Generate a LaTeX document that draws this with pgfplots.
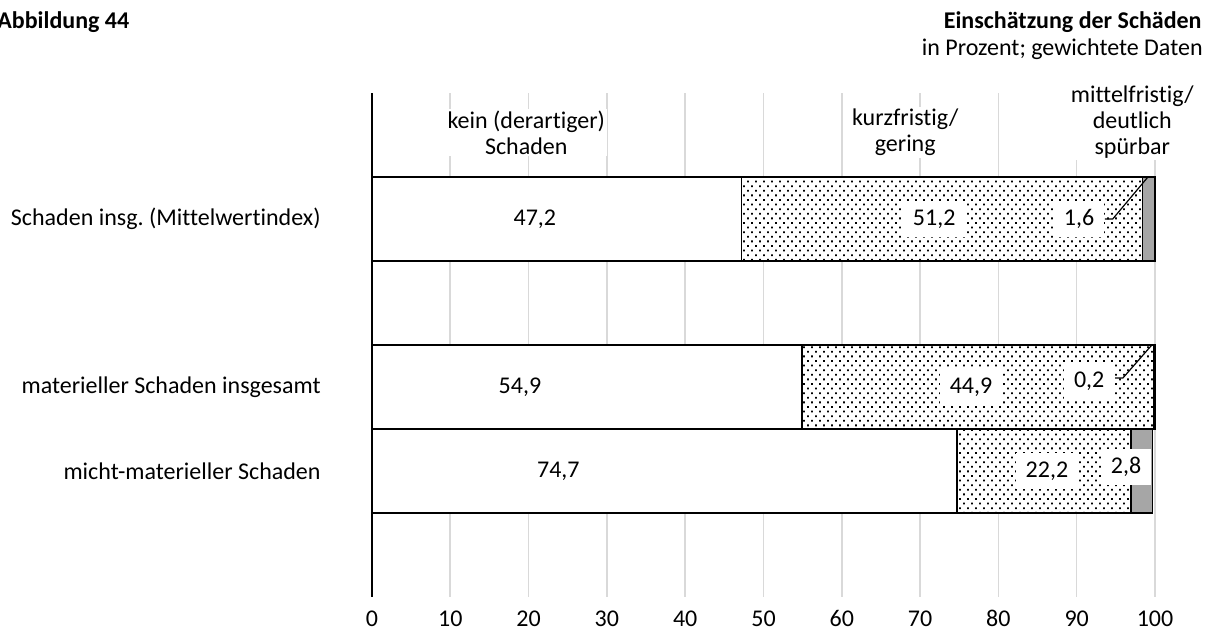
\documentclass[border=0pt]{standalone}
\usepackage{fontspec}
\setmainfont{Carlito}[Ligatures=NoCommon]
\usepackage{pgfplots}
\pgfplotsset{compat=1.18}
\usetikzlibrary{patterns}
\definecolor{midgray}{HTML}{A6A6A6}
\definecolor{gridgray}{HTML}{D9D9D9}
\pgfdeclarepatternformonly{mydots}{\pgfqpoint{-0.5pt}{-0.5pt}}{\pgfqpoint{4.5pt}{5.5pt}}{\pgfqpoint{4pt}{4.6pt}}{%
 \pgfpathrectangle{\pgfqpoint{-0.45pt}{-0.45pt}}{\pgfqpoint{0.9pt}{0.9pt}}%
 \pgfpathrectangle{\pgfqpoint{1.55pt}{1.85pt}}{\pgfqpoint{0.9pt}{0.9pt}}%
 \pgfusepath{fill}}
\begin{document}
\frenchspacing
\begin{tikzpicture}[font=\fontsize{12}{13}\selectfont]
\useasboundingbox (-186pt,-20pt) rectangle (419.5pt,298.5pt);
\begin{axis}[
  at={(0pt,0pt)}, anchor=south west,
  scale only axis, width=391.5pt, height=252pt,
  xbar stacked, bar width=1,
  xmin=0, xmax=100, ymin=-0.5, ymax=5.5,
  xtick={0,10,...,100},
  ytick={1,2,4},
  yticklabels={micht-materieller Schaden, materieller Schaden insgesamt, Schaden insg. (Mittelwertindex)},
  axis lines=left,
  x axis line style={draw=none},
  y axis line style={black, line width=0.8pt, -},
  major tick length=0pt,
  xmajorgrids, grid style={gridgray, line width=0.8pt},
  /pgf/number format/assume math mode=true,
  xticklabel style={anchor=base, inner sep=0pt, yshift=-15pt},
  yticklabel style={anchor=east, inner sep=0pt, xshift=-25.5pt},
  clip=false,
  after end axis/.code={
    \tikzset{lab/.style={fill=white, inner xsep=5pt, minimum height=18pt}}
    \node[lab] at (axis cs:20.8,4) {47,2};
    \node[lab] at (axis cs:71.8,4) {51,2};
    \node[lab] at (axis cs:90.3,4) {1,6};
    \node[lab] at (axis cs:18.9,2) {54,9};
    \node[lab] at (axis cs:76.5,2) {44,9};
    \node[lab] at (axis cs:91.6,2.07) {0,2};
    \node[lab] at (axis cs:23.8,1) {74,7};
    \node[lab] at (axis cs:86.2,1) {22,2};
    \node[lab] at (axis cs:96.3,1.05) {2,8};
    \draw[black, line width=0.6pt] (axis cs:93.6,4) -- (axis cs:94.6,4) -- (axis cs:99.1,4.5);
    \draw[black, line width=0.6pt] (axis cs:94.9,2.107) -- (axis cs:95.9,2.107) -- (axis cs:99.6,2.5);
    \node[fill=white, align=center, inner sep=1pt] at (axis cs:19.7,5.03) {kein (derartiger)\\Schaden};
    \node[fill=white, align=center, inner sep=1pt] at (axis cs:68.1,5.03) {kurzfristig/\\gering};
    \node[fill=white, align=center, inner sep=1pt] at (axis cs:97.1,5.155) {mittelfristig/\\deutlich\\spürbar};
  },
]
\addplot[draw=black, line width=0.8pt, fill=white] coordinates {(74.7,1) (54.9,2) (47.2,4)};
\addplot[draw=black, line width=0.8pt, fill=white, postaction={pattern=mydots}] coordinates {(22.2,1) (44.9,2) (51.2,4)};
\addplot[draw=black, line width=0.8pt, fill=midgray] coordinates {(2.8,1) (0.2,2) (1.6,4)};
\end{axis}
\node[anchor=base west, inner sep=0pt, font=\fontsize{12}{13}\selectfont\bfseries] at (-187.5pt,284pt) {Abbildung 44};
\node[anchor=base east, inner sep=0pt, font=\fontsize{12}{13}\selectfont\bfseries] at (415pt,284pt) {Einschätzung der Schäden};
\node[anchor=base east, inner sep=0pt] at (415.5pt,270.5pt) {in Prozent; gewichtete Daten};
\end{tikzpicture}
\end{document}
